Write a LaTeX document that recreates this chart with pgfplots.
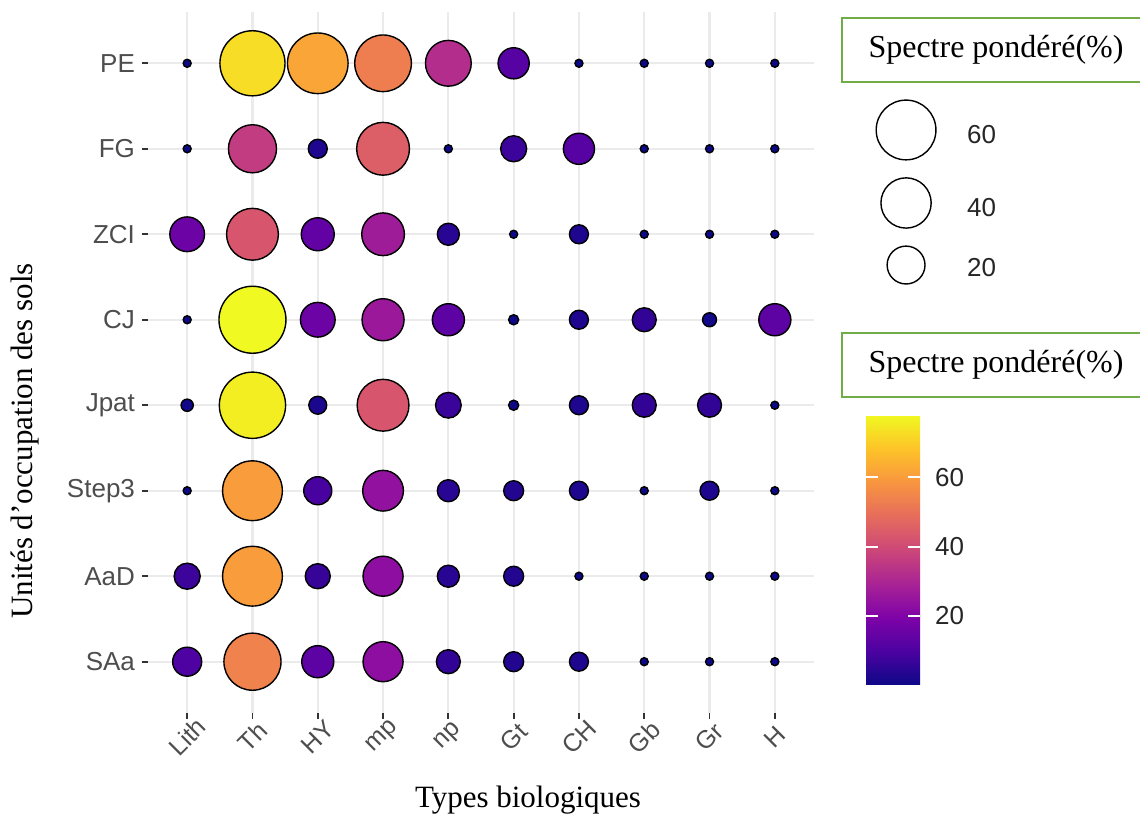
\documentclass[border=0pt]{standalone}
\usepackage{pgfplots}
\pgfplotsset{compat=1.18}
\usepackage{pgfplotstable}
\usepackage{fontspec}
\setmainfont{Liberation Serif}
\newfontfamily\arial{Liberation Sans}
\definecolor{legendgreen}{RGB}{112,173,71}
\definecolor{ticklab}{RGB}{77,77,77}
\pgfplotsset{
  colormap={plasma}{rgb255(0cm)=(13,8,135) rgb255(1cm)=(76,2,161) rgb255(2cm)=(126,3,168) rgb255(3cm)=(169,35,149) rgb255(4cm)=(204,71,120) rgb255(5cm)=(230,108,92) rgb255(6cm)=(248,149,64) rgb255(7cm)=(253,195,40) rgb255(8cm)=(240,249,33)}
}
% x: 0 Lith,1 Th,2 HY,3 mp,4 np,5 Gt,6 CH,7 Gb,8 Gr,9 H
% y: 0 SAa,1 AaD,2 Step3,3 Jpat,4 CJ,5 ZCI,6 FG,7 PE
\pgfplotstableread{
x y v
0 7 0
1 7 73
2 7 62
3 7 53
4 7 32
5 7 12
6 7 0
7 7 0
8 7 0
9 7 0
0 6 0
1 6 36
2 6 2.7
3 6 45
4 6 0
5 6 7.3
6 6 12
7 6 0
8 6 0
9 6 0
0 5 16
1 5 43
2 5 14
3 5 27
4 5 4.4
5 5 0
6 5 2.7
7 5 0
8 5 0
9 5 0
0 4 0
1 4 78
2 4 16
3 4 26
4 4 13
5 4 0.1
6 4 2.7
7 4 5.7
8 4 0.8
9 4 13
0 3 0.4
1 3 76
2 3 2.2
3 3 43
4 3 7
5 3 0.1
6 3 2.7
7 3 5.7
8 3 5.7
9 3 0
0 2 0
1 2 60
2 2 9
3 2 24
4 2 4.4
5 2 3.2
6 2 2.7
7 2 0
8 2 2.7
9 2 0
0 1 7.3
1 1 60
2 1 6.5
3 1 23
4 1 4.4
5 1 3.2
6 1 0
7 1 0
8 1 0
9 1 0
0 0 9.9
1 0 54
2 0 13
3 0 23
4 0 5.7
5 0 3.2
6 0 2.7
7 0 0
8 0 0
9 0 0
}\data
\pgfplotstableread{
x y v
11.01 6.22 60
11.01 5.366 40
11.01 4.64 20
}\sizelegend
\begin{document}
\begin{tikzpicture}
\useasboundingbox (-74pt,-52pt) rectangle (496pt,356.5pt);
\begin{axis}[
  scale only axis, width=333pt, height=350.5pt,
  xmin=-0.6, xmax=9.6, ymin=-0.6, ymax=7.6,
  xtick={0,...,9}, xticklabels={Lith,Th,HY,mp,np,Gt,CH,Gb,Gr,H},
  ytick={0,...,7}, yticklabels={SAa,AaD,Step3,Jpat,CJ,ZCI,FG,PE},
  grid=major, grid style={color=black!8, line width=1.1pt},
  axis line style={draw=none},
  tick align=outside, major tick length=3pt,
  tick style={color=black!80, line width=0.9pt},
  xtick pos=bottom, ytick pos=left,
  xticklabel style={font=\arial\fontsize{12.5}{15}\selectfont, text=ticklab, anchor=center, yshift=-9pt, rotate=45},
  yticklabel style={font=\arial\fontsize{13}{15}\selectfont, text=ticklab},
  colormap name=plasma,
  point meta min=0, point meta max=78,
  clip=false,
  colorbar,
  colorbar/width=27pt,
  colorbar shift/.style={xshift=0pt},
  colorbar style={
    at={(parent axis.south west)}, anchor=south west,
    xshift=359pt, yshift=14pt,
    scale only axis,
    height=135pt,
    axis line style={draw=none},
    ytick={20,40,60}, yticklabels={20,40,60},
    yticklabel pos=right,
    tick align=inside, major tick length=6pt,
    tick style={color=white, line width=1pt},
    yticklabel style={font=\arial\fontsize{13}{15}\selectfont, text=black!85, xshift=4pt},
  },
]
\addplot[scatter, only marks, mark=*,
  point meta=explicit,
  scatter/use mapped color={draw=black, fill=mapped color},
  visualization depends on={2+14.75*sqrt(\thisrow{v}/78) \as \rad},
  scatter/@pre marker code/.append style={/tikz/mark size=\rad pt},
  mark options={line width=0.7pt},
] table[x=x, y=y, meta=v] {\data};
\addplot[scatter, only marks, mark=*,
  point meta=explicit,
  scatter/use mapped color={draw=black, fill=white},
  visualization depends on={2+14.75*sqrt(\thisrow{v}/78) \as \rad},
  scatter/@pre marker code/.append style={/tikz/mark size=\rad pt},
  mark options={line width=0.7pt},
] table[x=x, y=y, meta=v] {\sizelegend};
\end{axis}
% colorbar right-side ticks (ggplot style)
\foreach \yy in {48.6,83.2,117.8} {
  \draw[white, line width=1pt] (380pt,\yy pt) -- (386pt,\yy pt);
}
% axis titles
\node[font=\fontsize{15.5}{18}\selectfont] at (190pt,-43.5pt) {Types biologiques};
\node[font=\fontsize{15.5}{18}\selectfont, rotate=90] at (-61.5pt,136pt) {Unités d’occupation des sols};
% legend boxes
\draw[legendgreen, line width=1.1pt, fill=white] (347pt,315.5pt) rectangle (505pt,347.5pt);
\node[font=\fontsize{16}{19}\selectfont] at (424pt,331.5pt) {Spectre pondéré(\%)};
\draw[legendgreen, line width=1.1pt, fill=white] (347pt,158pt) rectangle (505pt,190pt);
\node[font=\fontsize{16}{19}\selectfont] at (424pt,174pt) {Spectre pondéré(\%)};
% size legend labels
\node[anchor=west, font=\arial\fontsize{13}{15}\selectfont, text=black!85] at (406pt,289pt) {60};
\node[anchor=west, font=\arial\fontsize{13}{15}\selectfont, text=black!85] at (406pt,252.5pt) {40};
\node[anchor=west, font=\arial\fontsize{13}{15}\selectfont, text=black!85] at (406pt,222.5pt) {20};
\end{tikzpicture}
\end{document}
